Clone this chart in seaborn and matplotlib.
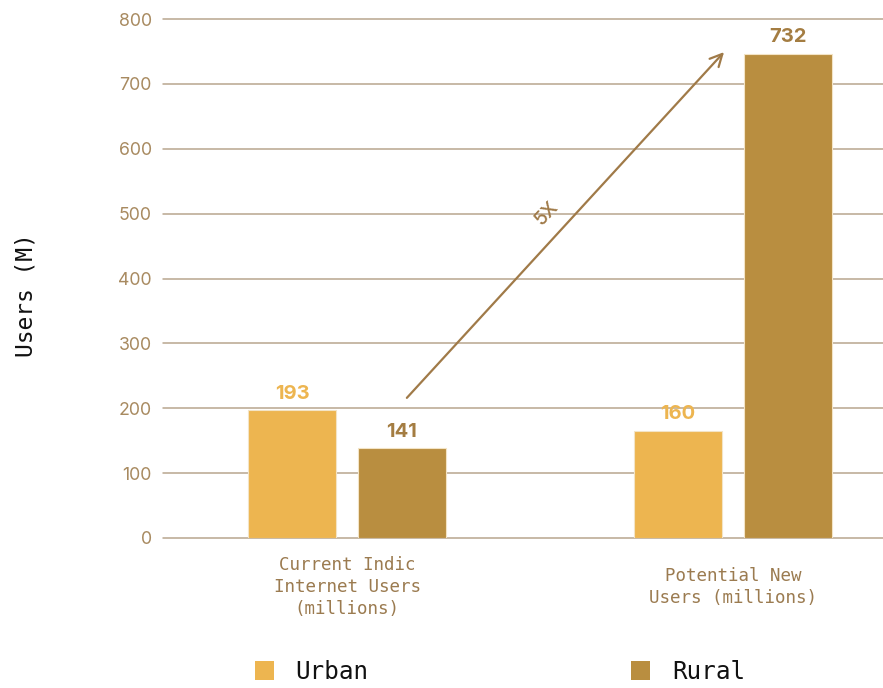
import matplotlib
matplotlib.use("Agg")
import matplotlib.pyplot as plt
from matplotlib.patches import Patch
import seaborn as sns
import pandas as pd

categories = ["Current Indic\nInternet Users\n(millions)", "Potential New\nUsers (millions)"]
series = ["Urban", "Rural"]
urban_values = [197, 165]
rural_values = [138, 746]
urban_labels = ["193", "160"]
rural_labels = ["141", "732"]
y_ticks = [0, 100, 200, 300, 400, 500, 600, 700, 800]
arrow_label = "5X"

URBAN = "#EDB550"
RURAL = "#B98E40"
GRID = "#B8A68E"
TICK = "#A88A60"
CAT = "#9B7B50"
ARROW = "#A07A48"

df = pd.DataFrame({
    "category": categories * 2,
    "series": [series[0]] * 2 + [series[1]] * 2,
    "value": urban_values + rural_values,
})

sns.set_theme(style="white")
plt.rcParams["font.family"] = ["Inter", "DejaVu Sans"]

fig = plt.figure(figsize=(8.83, 6.88), dpi=100)
ax = fig.add_axes([163 / 883, 150 / 688, 720 / 883, 519 / 688])

sns.barplot(data=df, x="category", y="value", hue="series", hue_order=series,
            order=categories, palette=[URBAN, RURAL], saturation=1,
            width=0.57, gap=0.2, edgecolor="#F3E4C6", linewidth=0.8,
            legend=False, ax=ax, zorder=3)

ax.set_xlim(-0.477, 1.389)
ax.set_ylim(0, 800)
ax.set_yticks(y_ticks)
ax.set_yticklabels([str(t) for t in y_ticks], color=TICK, fontsize=12.8)
ax.yaxis.grid(True, color=GRID, linewidth=1.1, zorder=0)
for gl in ax.get_ygridlines():
    gl.set_clip_on(False)
ax.xaxis.grid(False)
for s in ax.spines.values():
    s.set_visible(False)
ax.tick_params(axis="both", length=0)
ax.tick_params(axis="y", pad=8)
ax.tick_params(axis="x", pad=35)
for lbl in ax.get_xticklabels():
    lbl.set_fontfamily("DejaVu Sans Mono")
    lbl.set_fontsize(12.6)
    lbl.set_color(CAT)
    lbl.set_verticalalignment("center")
    lbl.set_multialignment("center")
    lbl.set_linespacing(1.28)
ax.set_xlabel("")
ax.set_ylabel("Users (M)", fontfamily="DejaVu Sans Mono", fontsize=16.5, color="#111111")
ax.yaxis.set_label_coords(-0.174, 0.468)

label_sets = [urban_labels, rural_labels]
label_colors = [URBAN, "#A47D42"]
for cont, labels, col in zip(ax.containers, label_sets, label_colors):
    ax.bar_label(cont, labels=labels, padding=5.5, color=col, fontsize=14.5,
                 fontweight="bold")

ax.annotate("", xy=(0.977, 749), xytext=(0.155, 216),
            arrowprops=dict(arrowstyle="->", color=ARROW, lw=1.6,
                            mutation_scale=22, shrinkA=0, shrinkB=0),
            zorder=4)
ax.text(0.517, 500, arrow_label, rotation=47, color=ARROW, fontsize=14,
        fontweight="medium", ha="center", va="center", rotation_mode="anchor")

handles = [Patch(facecolor=URBAN, edgecolor="none"), Patch(facecolor=RURAL, edgecolor="none")]
leg = fig.legend(handles, series, loc="center", bbox_to_anchor=(0.566, 0.023),
                 ncol=2, frameon=False, handlelength=0.78, handleheight=0.85,
                 handletextpad=0.9, columnspacing=10.8, borderpad=0,
                 prop={"family": "DejaVu Sans Mono", "size": 17.5})
for t in leg.get_texts():
    t.set_color("#111111")

fig.savefig("out.png", dpi=100)
